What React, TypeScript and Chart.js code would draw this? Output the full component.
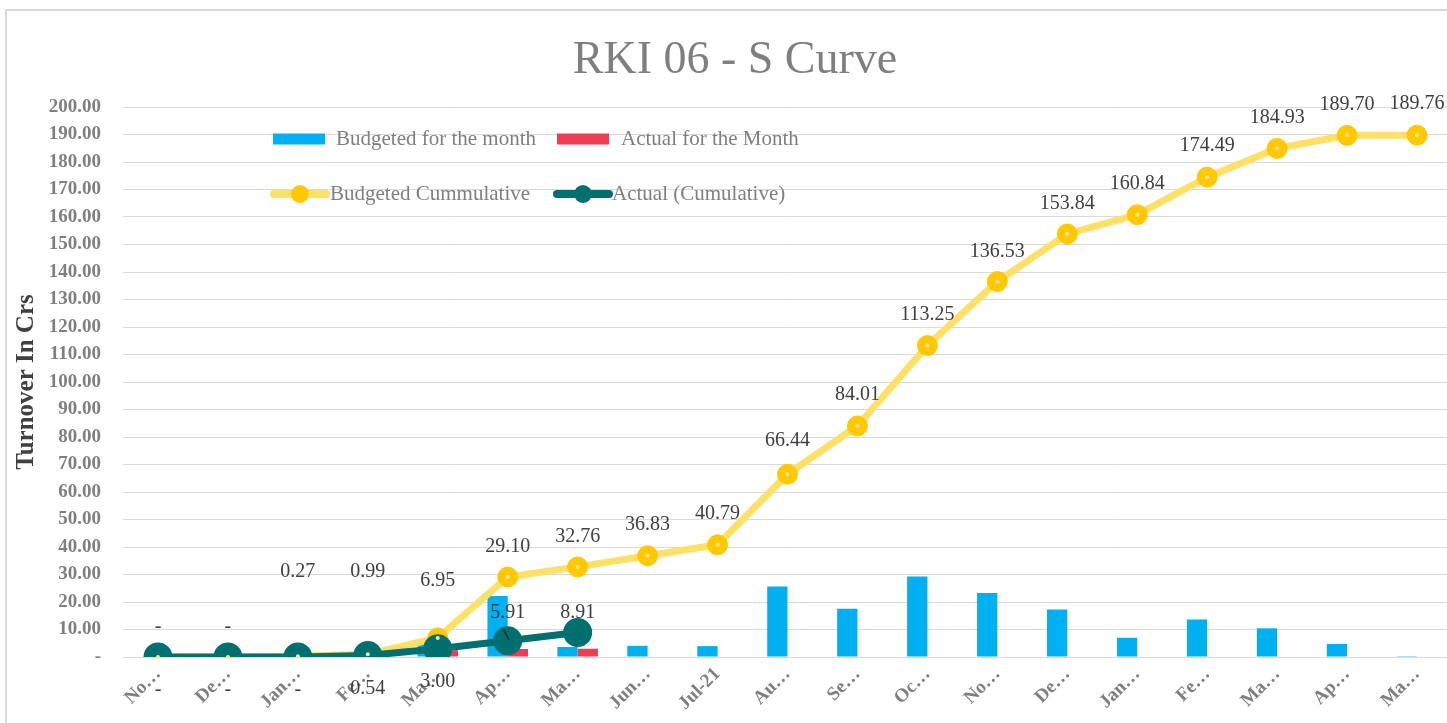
import React, { useEffect, useRef } from "react";
import { Chart, registerables } from "chart.js";

Chart.register(...registerables);

const categories = ["Nov-20", "Dec-20", "Jan-21", "Feb-21", "Mar-21", "Apr-21", "May-21", "Jun-21", "Jul-21", "Aug-21", "Sep-21", "Oct-21", "Nov-21", "Dec-21", "Jan-22", "Feb-22", "Mar-22", "Apr-22", "May-22"];
const tickLabels = ["No…", "De…", "Jan…", "Fe…", "Ma…", "Ap…", "Ma…", "Jun…", "Jul-21", "Au…", "Se…", "Oc…", "No…", "De…", "Jan…", "Fe…", "Ma…", "Ap…", "Ma…"];
const budgetedMonthly = [0, 0, 0.27, 0.72, 5.96, 22.15, 3.66, 4.07, 3.96, 25.65, 17.57, 29.24, 23.28, 17.31, 7.0, 13.65, 10.44, 4.77, 0.06];
const actualMonthly = [0, 0, 0, 0.54, 2.46, 2.91, 3.0, null, null, null, null, null, null, null, null, null, null, null, null];
const budgetedCumulative = [0, 0, 0.27, 0.99, 6.95, 29.1, 32.76, 36.83, 40.79, 66.44, 84.01, 113.25, 136.53, 153.84, 160.84, 174.49, 184.93, 189.7, 189.76];
const actualCumulative = [0, 0, 0, 0.54, 3.0, 5.91, 8.91, null, null, null, null, null, null, null, null, null, null, null, null];

// label placement (pixels from the point; negative = above)
const budgetLabelOffsets = [-30, -30, -85, -83, -57, -30, -30, -31, -31, -34, -31, -31, -30, -30, -31, -31, -31, -31, -31];
const actualLabelOffsets = [33, 33, 33, 33, 33, -28, -20];

const FONT = "'Liberation Serif', 'Times New Roman', serif";
const BLUE = "#00B0F0";
const RED = "#EE3E54";
const YELLOW_LINE = "#FFE066";
const YELLOW_PT = "#FFC800";
const TEAL = "#006F70";

const fmt = (v: number) => (v === 0 ? "-" : v.toFixed(2));

const framePlugin = {
  id: "frame",
  beforeDraw(chart: any) {
    const ctx = chart.ctx;
    ctx.save();
    ctx.fillStyle = "#ffffff";
    ctx.fillRect(0, 0, chart.width, chart.height);
    ctx.strokeStyle = "#D9D9D9";
    ctx.lineWidth = 2;
    ctx.beginPath();
    ctx.moveTo(6, chart.height);
    ctx.lineTo(6, 10);
    ctx.lineTo(chart.width, 10);
    ctx.stroke();
    ctx.restore();
  },
};

const labelsPlugin = {
  id: "dataLabels",
  afterDatasetsDraw(chart: any) {
    const ctx = chart.ctx;
    ctx.save();
    ctx.font = `20px ${FONT}`;
    ctx.textAlign = "center";
    ctx.textBaseline = "middle";
    const ym = chart.getDatasetMeta(2);
    ym.data.forEach((pt: any) => {
      ctx.beginPath();
      ctx.fillStyle = "#FFE699";
      ctx.arc(pt.x, pt.y, 2, 0, Math.PI * 2);
      ctx.fill();
    });
    ctx.fillStyle = "#404040";
    ym.data.forEach((pt: any, i: number) => {
      ctx.fillText(fmt(budgetedCumulative[i]), pt.x, pt.y + budgetLabelOffsets[i]);
    });
    const am = chart.getDatasetMeta(3);
    am.data.forEach((pt: any, i: number) => {
      const v = actualCumulative[i];
      if (v === null || v === undefined) return;
      ctx.fillText(fmt(v), pt.x, pt.y + actualLabelOffsets[i]);
    });
    const p = am.data[5];
    if (p) {
      ctx.strokeStyle = "#262626";
      ctx.lineWidth = 1.5;
      ctx.beginPath();
      ctx.moveTo(p.x - 5, p.y - 13);
      ctx.lineTo(p.x + 1, p.y - 1);
      ctx.stroke();
    }
    ctx.restore();
  },
};

const legendPlugin = {
  id: "customLegend",
  afterDraw(chart: any) {
    const ctx = chart.ctx;
    ctx.save();
    ctx.font = `21px ${FONT}`;
    ctx.textBaseline = "middle";
    ctx.textAlign = "left";
    const r1 = 139;
    const r2 = 194;
    ctx.fillStyle = BLUE;
    ctx.fillRect(273, r1 - 5.5, 52, 11);
    ctx.fillStyle = RED;
    ctx.fillRect(557, r1 - 5.5, 52, 11);
    ctx.fillStyle = "#7F7F7F";
    ctx.fillText("Budgeted for the month", 336, r1);
    ctx.fillText("Actual for the Month", 621, r1);

    const lineSwatch = (x0: number, x1: number, lc: string, pc: string) => {
      ctx.strokeStyle = lc;
      ctx.lineWidth = 8;
      ctx.lineCap = "round";
      ctx.beginPath();
      ctx.moveTo(x0, r2);
      ctx.lineTo(x1, r2);
      ctx.stroke();
      ctx.fillStyle = pc;
      ctx.beginPath();
      ctx.arc((x0 + x1) / 2, r2, 9, 0, Math.PI * 2);
      ctx.fill();
    };
    lineSwatch(274, 326, YELLOW_LINE, YELLOW_PT);
    lineSwatch(557, 609, TEAL, TEAL);
    ctx.fillStyle = "#7F7F7F";
    ctx.fillText("Budgeted Cummulative", 330, r2);
    ctx.fillText("Actual (Cumulative)", 612, r2);
    ctx.restore();
  },
};

export default function App() {
  const canvasRef = useRef<HTMLCanvasElement | null>(null);

  useEffect(() => {
    const canvas = canvasRef.current;
    if (!canvas) return;
    const chart = new Chart(canvas, {
      type: "bar",
      data: {
        labels: categories,
        datasets: [
          {
            type: "bar",
            label: "Budgeted for the month",
            data: budgetedMonthly,
            backgroundColor: BLUE,
            borderWidth: 0,
            categoryPercentage: 0.58,
            barPercentage: 1,
            order: 3,
          },
          {
            type: "bar",
            label: "Actual for the Month",
            data: actualMonthly,
            backgroundColor: RED,
            borderWidth: 0,
            categoryPercentage: 0.58,
            barPercentage: 1,
            order: 4,
          },
          {
            type: "line",
            label: "Budgeted Cummulative",
            data: budgetedCumulative,
            borderColor: YELLOW_LINE,
            borderWidth: 7,
            backgroundColor: YELLOW_PT,
            pointBackgroundColor: YELLOW_PT,
            pointBorderColor: YELLOW_PT,
            pointBorderWidth: 1,
            pointRadius: 10,
            tension: 0,
            order: 2,
          },
          {
            type: "line",
            label: "Actual (Cumulative)",
            data: actualCumulative,
            borderColor: TEAL,
            borderWidth: 7,
            backgroundColor: TEAL,
            pointBackgroundColor: TEAL,
            pointBorderColor: TEAL,
            pointRadius: 11,
            tension: 0,
            spanGaps: false,
            order: 1,
          },
        ],
      },
      options: {
        responsive: false,
        animation: false,
        devicePixelRatio: 1,
        layout: { padding: { left: 0, right: 0, top: 0, bottom: 0 } },
        plugins: {
          legend: { display: false },
          tooltip: { enabled: false },
          title: {
            display: true,
            text: "RKI 06 - S Curve",
            color: "#7F7F7F",
            font: { family: FONT, size: 46, weight: "normal", lineHeight: 1.2 },
            padding: { top: 33, bottom: 18.8 },
          },
        },
        scales: {
          x: {
            grid: { display: false, drawTicks: false },
            border: { display: false },
            ticks: {
              autoSkip: false,
              maxRotation: 45,
              minRotation: 45,
              padding: 6,
              color: "#7F7F7F",
              font: { family: FONT, size: 19, weight: "bold" },
              callback: (_v: any, i: number) => tickLabels[i],
            },
            afterFit: (scale: any) => {
              scale.height = 66;
            },
          },
          y: {
            min: 0,
            max: 200,
            grid: { color: "#D9D9D9", lineWidth: 1, drawTicks: false },
            border: { display: false },
            ticks: {
              stepSize: 10,
              padding: 22,
              color: "#7F7F7F",
              font: { family: FONT, size: 19, weight: "bold" },
              callback: (v: any) => fmt(Number(v)),
            },
            title: {
              display: true,
              text: "Turnover In Crs",
              color: "#404040",
              font: { family: FONT, size: 25, weight: "bold" },
              padding: { top: 12, bottom: 0 },
            },
            afterFit: (scale: any) => {
              scale.width = 123;
            },
          },
        },
      },
      plugins: [framePlugin, labelsPlugin, legendPlugin],
    } as any);
    return () => chart.destroy();
  }, []);

  return (
    <div style={{ position: "fixed", left: 0, top: 0, width: 1447, height: 723, overflow: "hidden", background: "#fff" }}>
      <canvas ref={canvasRef} width={1470} height={723} style={{ display: "block" }} />
    </div>
  );
}
